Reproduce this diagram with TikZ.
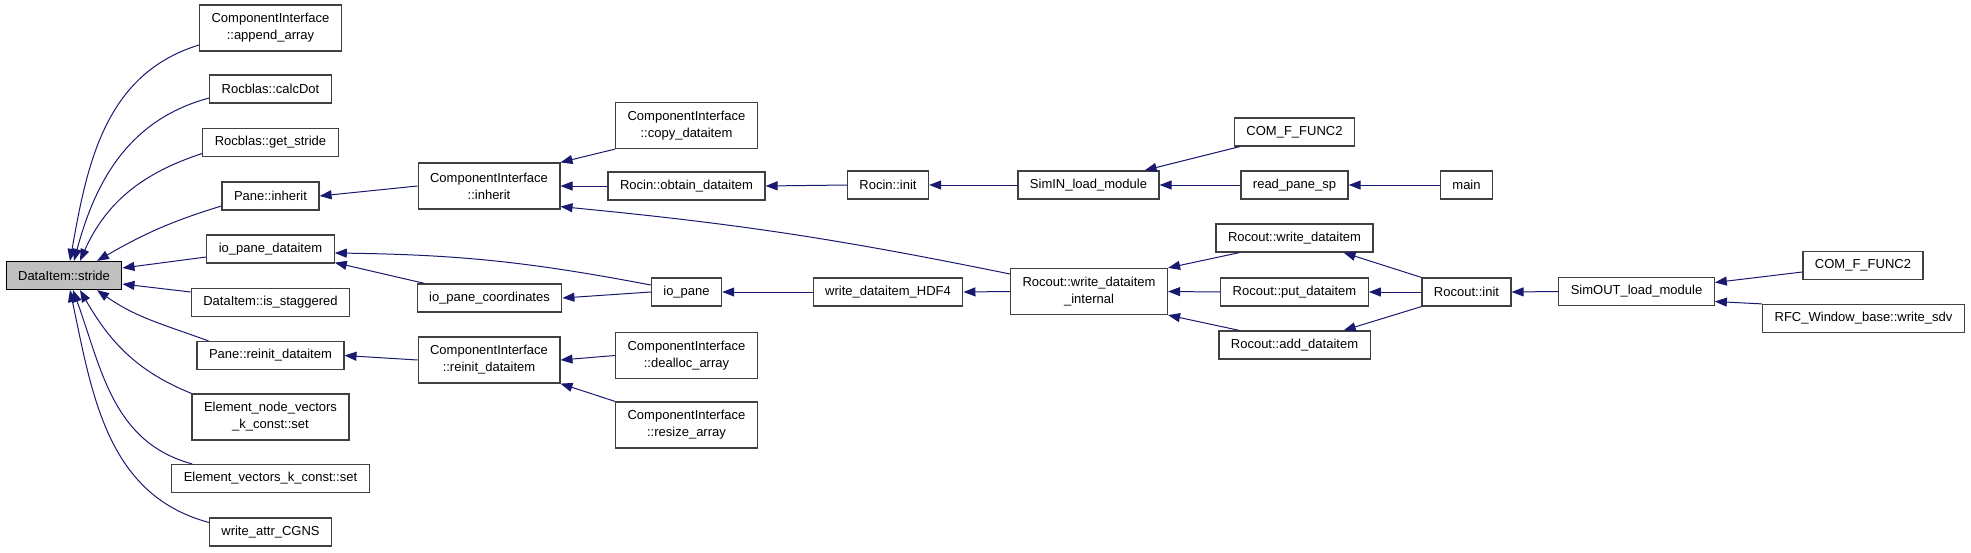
\documentclass[tikz,border=0pt]{standalone}
\usepackage{fontspec}
\setmainfont{Liberation Sans}
\usetikzlibrary{arrows.meta}

\definecolor{edgeblue}{HTML}{191970}
\definecolor{boxgray}{HTML}{BFBFBF}
\definecolor{boxline}{HTML}{404040}

\tikzset{
  fn/.style={draw=boxline, line width=1.2pt, fill=white, inner xsep=12pt, inner ysep=0pt,
    minimum height=28pt, align=center, font=\fontsize{13}{17}\selectfont},
  fntwo/.style={fn, minimum height=46pt},
  current/.style={fn, fill=boxgray, draw=black},
  call/.style={draw=edgeblue, line width=1pt, -{Triangle[length=12pt,width=9pt]}},
}

\begin{document}
\begin{tikzpicture}[x=1pt,y=-1pt]
        \useasboundingbox (0,0) rectangle (1971,552);

        % Funzione chiamata
        \node[current] (stride) at (64,275.5) {DataItem::stride};

        % Primo livello di chiamanti
        \node[fntwo] (append) at (270.5,28) {ComponentInterface\\::append\_array};
        \node[fn] (calcdot) at (270.5,89) {Rocblas::calcDot};
        \node[fn] (getstride) at (270.5,142.5) {Rocblas::get\_stride};
        \node[fn] (paneinherit) at (270.5,196) {Pane::inherit};
        \node[fn] (iopaneitem) at (270.5,249) {io\_pane\_dataitem};
        \node[fn] (isstag) at (270.5,302.5) {DataItem::is\_staggered};
        \node[fn] (panereinit) at (270.5,355.5) {Pane::reinit\_dataitem};
        \node[fntwo] (elemnode) at (270.5,417) {Element\_node\_vectors\\\_k\_const::set};
        \node[fn] (elemvec) at (270.5,478.5) {Element\_vectors\_k\_const::set};
        \node[fn] (cgns) at (270.5,532) {write\_attr\_CGNS};

        % Secondo livello
        \node[fntwo] (ciinherit) at (489,186) {ComponentInterface\\::inherit};
        \node[fn] (iopanecoord) at (489.5,298) {io\_pane\_coordinates};
        \node[fntwo] (cireinit) at (489,360) {ComponentInterface\\::reinit\_dataitem};

        % Terzo livello
        \node[fntwo] (copy) at (686.5,125.5) {ComponentInterface\\::copy\_dataitem};
        \node[fn] (obtain) at (686.5,186) {Rocin::obtain\_dataitem};
        \node[fn] (iopane) at (686.5,292) {io\_pane};
        \node[fntwo] (dealloc) at (686.5,355.5) {ComponentInterface\\::dealloc\_array};
        \node[fntwo] (resize) at (686.5,425) {ComponentInterface\\::resize\_array};

        % Livelli successivi
        \node[fn] (rocininit) at (888,185) {Rocin::init};
        \node[fn] (hdf4) at (888,292) {write\_dataitem\_HDF4};
        \node[fn] (simin) at (1088.5,185) {SimIN\_load\_module};
        \node[fntwo] (internal) at (1089,291.5) {Rocout::write\_dataitem\\\_internal};
        \node[fn] (comfa) at (1294.5,132) {COM\_F\_FUNC2};
        \node[fn] (readpane) at (1294.5,185) {read\_pane\_sp};
        \node[fn] (rwrite) at (1294.5,238) {Rocout::write\_dataitem};
        \node[fn] (rput) at (1294.5,292) {Rocout::put\_dataitem};
        \node[fn] (radd) at (1294.5,345) {Rocout::add\_dataitem};
        \node[fn] (mainfn) at (1466.5,185) {main};
        \node[fn] (rinit) at (1466.5,292) {Rocout::init};
        \node[fn] (simout) at (1636.5,291.5) {SimOUT\_load\_module};
        \node[fn] (comfb) at (1863,265.5) {COM\_F\_FUNC2};
        \node[fn] (rfc) at (1863.5,318.5) {RFC\_Window\_base::write\_sdv};

        % Archi curvi verso DataItem::stride
        \draw[call] ([yshift=-17pt]append.west) to[out=197,in=80] ([xshift=6pt]stride.north);
        \draw[call] ([yshift=-9pt]calcdot.west) to[out=195,in=75] ([xshift=10pt]stride.north);
        \draw[call] ([yshift=-11pt]getstride.west) to[out=198,in=66] ([xshift=16pt]stride.north);
        \draw[call] ([yshift=-10pt]paneinherit.west) to[out=197,in=30] ([xshift=33pt]stride.north);
        \draw[call] ([yshift=-8pt]iopaneitem.west) -- ([yshift=7.5pt]stride.east);
        \draw[call] ([yshift=10.5pt]isstag.west) -- ([yshift=-8.5pt]stride.east);
        \draw[call] ([xshift=12pt]panereinit.north west) to[out=160,in=-35] ([xshift=33pt]stride.south);
        \draw[call] (elemnode.north west) to[out=158,in=-60] ([xshift=16pt]stride.south);
        \draw[call] ([xshift=21pt]elemvec.north west) to[out=165,in=-70] ([xshift=9pt]stride.south);
        \draw[call] ([yshift=-5pt]cgns.north west) to[out=165,in=-78] ([xshift=6pt]stride.south);

        % Archi diritti
        \foreach \src/\dst in {ciinherit/paneinherit, obtain/ciinherit, cireinit/panereinit,
            dealloc/cireinit, iopane/iopanecoord, rocininit/obtain, simin/rocininit,
            readpane/simin, mainfn/readpane, hdf4/iopane, internal/hdf4, rput/internal,
            rinit/rput, simout/rinit} {
            \draw[call] (\src.west) -- (\dst.east);
        }

        % Archi obliqui
        \draw[call] (copy.south west) -- (ciinherit.north east);
        \draw[call] (resize.north west) -- (cireinit.south east);
        \draw[call] ([yshift=17.5pt]internal.west) to[bend right=3] ([yshift=3pt]ciinherit.south east);
        \draw[call] ([yshift=7pt]iopane.west) to[bend right=5] ([yshift=-4pt]iopaneitem.east);
        \draw[call] ([xshift=8pt]iopanecoord.north west) -- ([yshift=1pt]iopaneitem.south east);
        \draw[call] ([xshift=6pt]comfa.south west) -- ([xshift=-15pt]simin.north east);
        \draw[call] ([xshift=24pt]rwrite.south west) -- (internal.north east);
        \draw[call] ([xshift=21pt]radd.north west) -- (internal.south east);
        \draw[call] (rinit.north west) -- ([xshift=-30pt]rwrite.south east);
        \draw[call] (rinit.south west) -- ([xshift=-27pt]radd.north east);
        \draw[call] ([yshift=-6.5pt]comfb.west) -- ([yshift=9pt]simout.east);
        \draw[call] (rfc.north west) -- ([yshift=-10pt]simout.east);
    \end{tikzpicture}
\end{document}
